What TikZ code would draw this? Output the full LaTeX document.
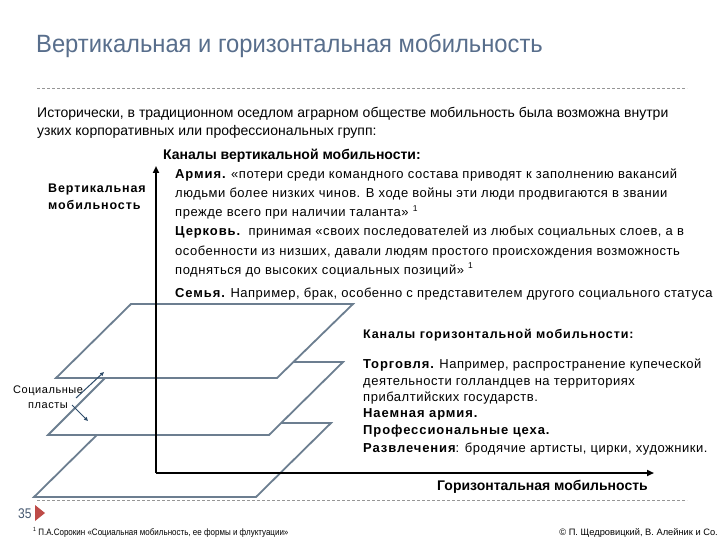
\documentclass[tikz,border=0pt]{standalone}
\usepackage{fontspec}
\setmainfont{Liberation Sans}
\newfontfamily\narrowfont[FakeStretch=0.86]{Liberation Sans}
\newfontfamily\titlefont[FakeStretch=0.95]{Liberation Sans}
\newfontfamily\spacedfont[LetterSpace=4]{Liberation Sans}
\newfontfamily\spacedbold[LetterSpace=7]{Liberation Sans Bold}
\newfontfamily\socfont[LetterSpace=5]{Liberation Sans}
\usetikzlibrary{arrows.meta}
\definecolor{titleblue}{RGB}{88,110,140}
\definecolor{planeline}{RGB}{108,126,144}
\definecolor{dashgray}{RGB}{150,150,150}
\definecolor{arrowblue}{RGB}{45,75,105}
\definecolor{pagered}{RGB}{190,75,72}
\begin{document}
\begin{tikzpicture}[x=1pt,y=-1pt,
  txt/.style={anchor=base west,inner sep=0pt,font=\spacedfont\fontsize{13}{15}\selectfont},
  intro/.style={anchor=base west,inner sep=0pt,font=\fontsize{14}{16}\selectfont},
  hdr/.style={anchor=base west,inner sep=0pt,font=\bfseries\fontsize{14}{16}\selectfont},
  lbl/.style={anchor=base west,inner sep=0pt,font=\spacedbold\fontsize{12.5}{14}\selectfont},
  plane/.style={draw=planeline,fill=white,line width=1.8pt,line join=miter},
  axis/.style={draw=black,line width=1.8pt,-{Triangle[length=7pt,width=6pt]}},
  pointer/.style={draw=arrowblue,line width=1pt,-{Triangle[length=4pt,width=3.5pt]}},
  sepline/.style={draw=dashgray,line width=0.7pt,dash pattern=on 3pt off 2pt}
]
\useasboundingbox (0,0) rectangle (720,540);
\fill[white] (0,0) rectangle (720,540);

% title
\node[anchor=base west,inner sep=0pt,text=titleblue,font=\titlefont\fontsize{25}{27}\selectfont] (title) at (36,53) {Вертикальная и горизонтальная мобильность};
\draw[sepline] (37,88) -- (687,88);

% intro
\node[intro] (intro1) at (37,118) {Исторически, в традиционном оседлом аграрном обществе мобильность была возможна внутри};
\node[intro] (intro2) at (37,136) {узких корпоративных или профессиональных групп:};

% planes (bottom first)
\filldraw[plane] (109,423) -- (331,423) -- (256,497) -- (34,497) -- cycle;
\filldraw[plane] (121,362) -- (343,362) -- (269,435) -- (48,435) -- cycle;
\filldraw[plane] (131,304) -- (353,304) -- (277,378) -- (56,378) -- cycle;

% axes
\coordinate (O) at (156,473);
\coordinate (vtip) at (156,166);
\coordinate (htip) at (654,473);
\draw[axis] (O) -- (vtip);
\draw[axis] (O) -- (htip);

% vertical channels
\node[hdr] (vhdr) at (163,160) {Каналы вертикальной мобильности:};
\node[lbl] (vlab1) at (48,193) {Вертикальная};
\node[lbl] (vlab2) at (48,210) {мобильность};

\node[txt] (a1) at (175,179) {{\spacedbold Армия.} «потери среди командного состава приводят к заполнению вакансий};
\node[txt] (a2) at (175,198) {людьми более низких чинов. В ходе войны эти люди продвигаются в звании};
\node[txt] (a3) at (175,217) {прежде всего при наличии таланта» \raisebox{0.45em}{\fontsize{8.5}{9}\selectfont 1}};
\node[txt] (c1) at (175,236) {{\spacedbold Церковь.}\ \ принимая «своих последователей из любых социальных слоев, а в};
\node[txt] (c2) at (175,255) {особенности из низших, давали людям простого происхождения возможность};
\node[txt] (c3) at (175,274) {подняться до высоких социальных позиций» \raisebox{0.45em}{\fontsize{8.5}{9}\selectfont 1}};
\node[txt] (s1) at (175,297) {{\spacedbold Семья.} Например, брак, особенно с представителем другого социального статуса};

% horizontal channels
\node[lbl] (hhdr) at (363,338) {Каналы горизонтальной мобильности:};
\node[txt] (t1) at (363,368) {{\spacedbold Торговля.} Например, распространение купеческой};
\node[txt] (t2) at (363,385) {деятельности голландцев на территориях};
\node[txt] (t3) at (363,401) {прибалтийских государств.};
\node[txt] (t4) at (363,417) {{\spacedbold Наемная армия.}};
\node[txt] (t5) at (363,434) {{\spacedbold Профессиональные цеха.}};
\node[txt] (t6) at (363,452) {{\spacedbold Развлечения}: бродячие артисты, цирки, художники.};
\node[hdr] (hlab) at (437,490) {Горизонтальная мобильность};

% social strata label
\node[anchor=base west,inner sep=0pt,font=\socfont\fontsize{11}{12}\selectfont] (soc1) at (13,393) {Социальные};
\node[anchor=base west,inner sep=0pt,font=\socfont\fontsize{11}{12}\selectfont] (soc2) at (28,408) {пласты};
\coordinate (p1s) at (76,398);
\coordinate (p1e) at (104,372);
\coordinate (p2s) at (72,405);
\coordinate (p2e) at (88,421);
\draw[pointer] (p1s) -- (p1e);
\draw[pointer] (p2s) -- (p2e);

% footer
\draw[sepline] (37,500) -- (687,500);
\node[anchor=base west,inner sep=0pt,text=titleblue!80!black,font=\narrowfont\fontsize{14}{16}\selectfont] (pnum) at (18,518) {35};
\fill[pagered] (35,505) -- (45,513) -- (35,521) -- cycle;
\node[anchor=base west,inner sep=0pt,font=\narrowfont\fontsize{9.3}{10}\selectfont] (fn) at (33,535) {\raisebox{0.4em}{\fontsize{6}{7}\selectfont 1} П.А.Сорокин «Социальная мобильность, ее формы и флуктуации»};
\node[anchor=base east,inner sep=0pt,font=\fontsize{9.3}{10}\selectfont] (copy) at (718,535) {© П. Щедровицкий, В. Алейник и Со.};
\end{tikzpicture}
\end{document}
